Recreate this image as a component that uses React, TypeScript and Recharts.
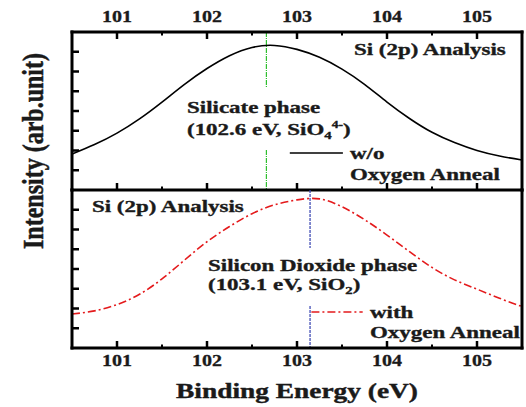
import { LineChart, Line, XAxis, YAxis, ReferenceLine } from "recharts";

// binding energy grid (eV), read every 0.25 eV off the picture
const energy = [
  100.5, 100.75, 101, 101.25, 101.5, 101.75, 102, 102.25, 102.5, 102.75, 103,
  103.25, 103.5, 103.75, 104, 104.25, 104.5, 104.75, 105, 105.25, 105.5,
];

// Si 2p intensity, arbitrary units (each panel is 0..8)
const withoutAnneal = [
  1.82, 2.3, 2.88, 3.6, 4.45, 5.35, 6.15, 6.8, 7.22, 7.32, 7.12, 6.72, 6.12,
  5.35, 4.45, 3.62, 2.92, 2.4, 2.0, 1.72, 1.52,
];
const withAnneal = [
  1.72, 1.88, 2.2, 2.72, 3.5, 4.45, 5.38, 6.15, 6.8, 7.25, 7.5, 7.55, 7.15,
  6.5, 5.72, 4.88, 4.08, 3.45, 2.98, 2.52, 2.1,
];

const xTicks = [101, 101.5, 102, 102.5, 103, 103.5, 104, 104.5, 105];
const yTicks = [1, 2, 3, 4, 5, 6, 7];

const silicatePeak = 102.66;
const dioxidePeak = 103.145;

const topData = energy.map((e, i) => ({ e, v: withoutAnneal[i] }));
const bottomData = energy.map((e, i) => ({ e, v: withAnneal[i] }));

const FONT = '"Liberation Serif", "Times New Roman", serif';
const INK = "#1a1a1a";
const frame = { stroke: "#000", strokeWidth: 3, strokeLinecap: "square" as const };

function TopTick({ x, y, payload }: any) {
  const major = Number.isInteger(payload.value);
  return (
    <g>
      <line x1={x} x2={x} y1={y} y2={y + (major ? 7 : 3.5)} stroke="#000" strokeWidth={major ? 2.5 : 2} />
      {major && (
        <text
          transform={`translate(${x},${y - 10}) scale(1.25,1)`}
          textAnchor="middle"
          style={{ fontFamily: FONT }}
          fontWeight="bold"
          fontSize={16}
          fill={INK}
          stroke={INK}
          strokeWidth={0.3}
        >
          {payload.value}
        </text>
      )}
    </g>
  );
}

function UpTick({ x, y, payload }: any) {
  const major = Number.isInteger(payload.value);
  return (
    <line x1={x} x2={x} y1={y} y2={y - (major ? 7 : 3.5)} stroke="#000" strokeWidth={major ? 2.5 : 2} />
  );
}

function BottomTick({ x, y, payload }: any) {
  const major = Number.isInteger(payload.value);
  return (
    <g>
      <line x1={x} x2={x} y1={y} y2={y - (major ? 7 : 3.5)} stroke="#000" strokeWidth={major ? 2.5 : 2} />
      {major && (
        <text
          transform={`translate(${x},${y + 18}) scale(1.25,1)`}
          textAnchor="middle"
          style={{ fontFamily: FONT }}
          fontWeight="bold"
          fontSize={16}
          fill={INK}
          stroke={INK}
          strokeWidth={0.3}
        >
          {payload.value}
        </text>
      )}
    </g>
  );
}

function LeftTick({ x, y }: any) {
  return <line x1={x} x2={x + 7} y1={y} y2={y} stroke="#000" strokeWidth={2.5} />;
}

function RightTick({ x, y }: any) {
  return <line x1={x} x2={x - 7} y1={y} y2={y} stroke="#000" strokeWidth={2.5} />;
}

function Note({ x, y, size = 17, sx = 1.35, children }: any) {
  return (
    <text
      transform={`translate(${x},${y}) scale(${sx},1)`}
      style={{ fontFamily: FONT }}
      fontWeight="bold"
      fontSize={size}
      fill={INK}
      stroke={INK}
      strokeWidth={0.35}
    >
      {children}
    </text>
  );
}

export default function App() {
  return (
    <div style={{ position: "absolute", left: 0, top: 0, width: 526, height: 407, background: "#fff" }}>
      {/* top panel: w/o anneal */}
      <div style={{ position: "absolute", left: 0, top: 0 }}>
        <LineChart width={526} height={192} data={topData} margin={{ top: 31, right: 3, bottom: 1, left: 71 }}>
          <XAxis
            xAxisId="t"
            dataKey="e"
            type="number"
            orientation="top"
            domain={[100.5, 105.5]}
            ticks={xTicks}
            interval={0}
            height={1}
            tickSize={0}
            tickMargin={0}
            tickLine={false}
            axisLine={frame}
            tick={TopTick}
            allowDataOverflow
          />
          <XAxis
            xAxisId="b"
            dataKey="e"
            type="number"
            orientation="bottom"
            domain={[100.5, 105.5]}
            ticks={xTicks}
            interval={0}
            height={1}
            tickSize={0}
            tickMargin={0}
            tickLine={false}
            axisLine={frame}
            tick={UpTick}
            allowDataOverflow
          />
          <YAxis yAxisId="l" type="number" domain={[0, 8]} ticks={yTicks} interval={0} width={1} tickSize={0} tickMargin={0} tickLine={false} axisLine={frame} tick={LeftTick} />
          <YAxis yAxisId="r" orientation="right" type="number" domain={[0, 8]} ticks={yTicks} interval={0} width={1} tickSize={0} tickMargin={0} tickLine={false} axisLine={frame} tick={RightTick} />
          <ReferenceLine xAxisId="t" yAxisId="l" segment={[{ x: silicatePeak, y: 8 }, { x: silicatePeak, y: 5.16 }]} stroke="#2fbf2f" strokeWidth={1.2} strokeDasharray="5 1 1 1" />
          <ReferenceLine xAxisId="t" yAxisId="l" segment={[{ x: silicatePeak, y: 2.03 }, { x: silicatePeak, y: 0 }]} stroke="#2fbf2f" strokeWidth={1.2} strokeDasharray="5 1 1 1" />
          <ReferenceLine xAxisId="t" yAxisId="l" segment={[{ x: 102.92, y: 1.87 }, { x: 103.51, y: 1.87 }]} stroke="#000" strokeWidth={1.6} />
          <Line xAxisId="t" yAxisId="l" type="natural" dataKey="v" stroke="#000" strokeWidth={1.6} dot={false} isAnimationActive={false} />
        </LineChart>
      </div>

      {/* bottom panel: with anneal */}
      <div style={{ position: "absolute", left: 0, top: 0 }}>
        <LineChart width={526} height={407} data={bottomData} margin={{ top: 190, right: 3, bottom: 58, left: 71 }}>
          <XAxis
            xAxisId="b"
            dataKey="e"
            type="number"
            orientation="bottom"
            domain={[100.5, 105.5]}
            ticks={xTicks}
            interval={0}
            height={1}
            tickSize={0}
            tickMargin={0}
            tickLine={false}
            axisLine={frame}
            tick={BottomTick}
            allowDataOverflow
          />
          <YAxis yAxisId="l" type="number" domain={[0, 8]} ticks={yTicks} interval={0} width={1} tickSize={0} tickMargin={0} tickLine={false} axisLine={frame} tick={LeftTick} />
          <YAxis yAxisId="r" orientation="right" type="number" domain={[0, 8]} ticks={yTicks} interval={0} width={1} tickSize={0} tickMargin={0} tickLine={false} axisLine={frame} tick={RightTick} />
          <ReferenceLine xAxisId="b" yAxisId="l" segment={[{ x: dioxidePeak, y: 8 }, { x: dioxidePeak, y: 5.06 }]} stroke="#3440b0" strokeWidth={1.2} strokeDasharray="3 1" />
          <ReferenceLine xAxisId="b" yAxisId="l" segment={[{ x: dioxidePeak, y: 2.13 }, { x: dioxidePeak, y: 0 }]} stroke="#3440b0" strokeWidth={1.2} strokeDasharray="3 1" />
          <ReferenceLine xAxisId="b" yAxisId="l" segment={[{ x: 103.16, y: 1.82 }, { x: 103.73, y: 1.82 }]} stroke="#e41a1c" strokeWidth={1.6} strokeDasharray="8 3 2 3" />
          <Line xAxisId="b" yAxisId="l" type="natural" dataKey="v" stroke="#e41a1c" strokeWidth={1.6} strokeDasharray="8 3 2 3" dot={false} isAnimationActive={false} />
        </LineChart>
      </div>

      {/* annotations and axis titles */}
      <svg width={526} height={407} style={{ position: "absolute", left: 0, top: 0, pointerEvents: "none" }}>
        <Note x={354} y={55}>Si (2p) Analysis</Note>
        <Note x={187} y={113}>Silicate phase</Note>
        <Note x={187} y={135}>
          (102.6 eV, SiO<tspan fontSize={11} dy={4}>4</tspan>
          <tspan fontSize={10} dy={-11}>4-</tspan>
          <tspan dy={7}>)</tspan>
        </Note>
        <Note x={350} y={159}>w/o</Note>
        <Note x={350} y={180}>Oxygen Anneal</Note>

        <Note x={92} y={212}>Si (2p) Analysis</Note>
        <Note x={208} y={271}>Silicon Dioxide phase</Note>
        <Note x={208} y={290}>
          (103.1 eV, SiO<tspan fontSize={11} dy={4}>2</tspan>
          <tspan dy={-4}>)</tspan>
        </Note>
        <Note x={370} y={318}>with</Note>
        <Note x={370} y={338}>Oxygen Anneal</Note>

        <text
          transform="translate(297,398) scale(1.37,1)"
          textAnchor="middle"
          style={{ fontFamily: FONT }}
          fontWeight="bold"
          fontSize={20}
          fill={INK}
          stroke={INK}
          strokeWidth={0.4}
        >
          Binding Energy (eV)
        </text>
        <text
          transform="translate(43,151) rotate(-90) scale(1,1.25)"
          textAnchor="middle"
          style={{ fontFamily: FONT }}
          fontWeight="bold"
          fontSize={24}
          fill={INK}
          stroke={INK}
          strokeWidth={0.4}
        >
          Intensity (arb.unit)
        </text>
      </svg>
    </div>
  );
}
